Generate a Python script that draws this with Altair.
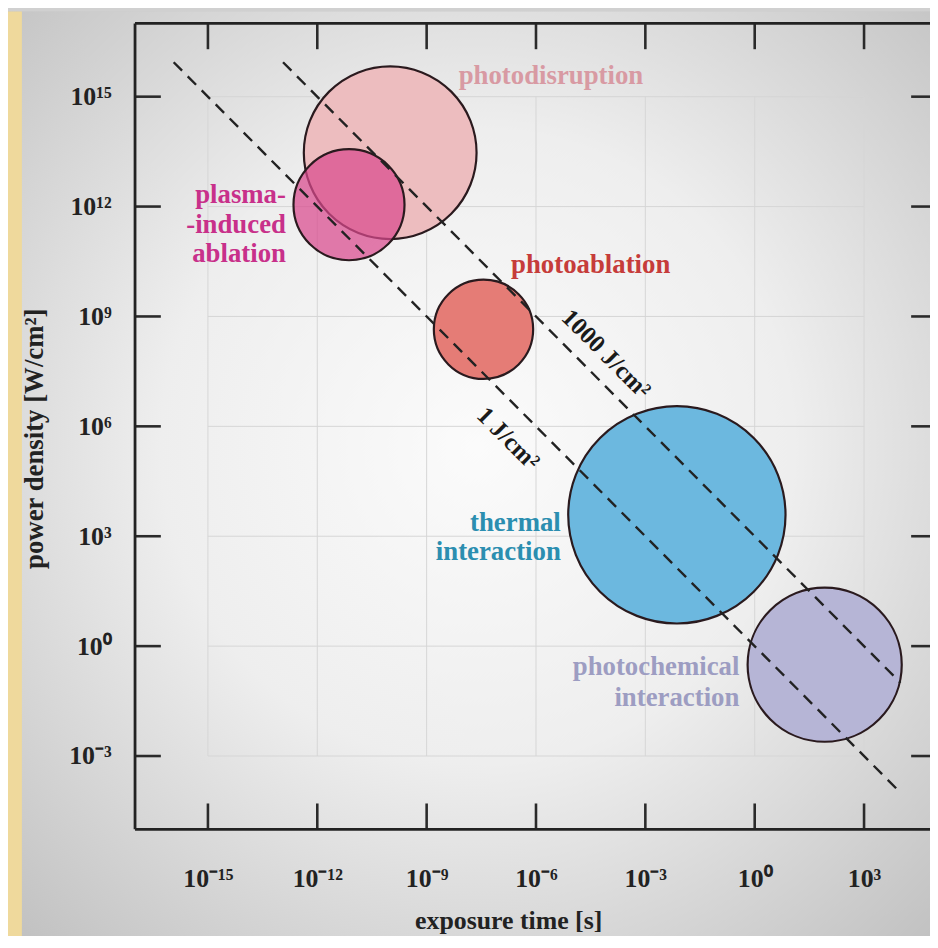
import altair as alt
import pandas as pd

# ---------------- data ----------------
regions = ["photodisruption", "plasma-induced ablation", "photoablation",
           "thermal interaction", "photochemical interaction"]
center_log_t = [-10.0, -11.13, -7.44, -2.135, 1.92]       # log10 exposure time [s]
center_log_p = [13.47, 12.05, 8.65, 3.585, -0.507]        # log10 power density [W/cm2]
diameter_dec = [4.73, 3.04, 2.72, 5.95, 4.22]             # circle diameter in decades
fill_colors = ["#EDBDBF", "#D94A8E", "#E57C76", "#6CB8DF", "#B6B5D6"]
fill_opac = [1.0, 0.72, 1.0, 1.0, 1.0]

fluence_lines = ["1 J/cm²", "1000 J/cm²"]
line_log_t_start = [-15.94, -12.94]
line_log_t_end = [4.0, 4.0]
fluence_log = [0, 3]   # log10 of fluence in J/cm2

tick_exps = [-15, -12, -9, -6, -3, 0, 3]
ytick_exps = [-3, 0, 3, 6, 9, 12, 15]

label_texts = ["photodisruption", "plasma-", "-induced", "ablation", "photoablation",
               "thermal", "interaction", "photochemical", "interaction"]
label_log_t = [-5.59, -12.86, -12.86, -12.86, -4.50, -5.32, -5.32, -0.42, -0.42]
label_log_p = [15.56, 12.31, 11.50, 10.69, 10.41, 3.37, 2.56, -0.56, -1.43]
label_align = ["center", "right", "right", "right", "center", "right", "right", "right", "right"]
label_colors = ["#D89AA3", "#C8308A", "#C8308A", "#C8308A", "#C63C3A",
                "#2B8EB0", "#2B8EB0", "#9D9DC2", "#9D9DC2"]

line_label_texts = ["1000 J/cm²", "1 J/cm²"]
line_label_log_t = [-4.07, -6.76]
line_label_log_p = [7.98, 5.67]

# ---------------- tables ----------------
circles = pd.DataFrame({
    "region": regions,
    "t": [10 ** v for v in center_log_t],
    "p": [10 ** v for v in center_log_p],
    "d": diameter_dec,
    "op": fill_opac,
    "k": list(range(len(regions))),
})

rows = []
for name, a, b, f in zip(fluence_lines, line_log_t_start, line_log_t_end, fluence_log):
    for lt in (a, b):
        rows.append({"line": name, "t": 10 ** lt, "p": 10 ** (f - lt)})
lines_df = pd.DataFrame(rows)

xt = pd.DataFrame({"t": [10.0 ** e for e in tick_exps]})
yt = pd.DataFrame({"p": [10.0 ** e for e in ytick_exps]})

labels_df = pd.DataFrame({
    "text": label_texts,
    "t": [10 ** v for v in label_log_t],
    "p": [10 ** v for v in label_log_p],
    "align": label_align,
    "color": label_colors,
})
line_labels_df = pd.DataFrame({
    "text": line_label_texts,
    "t": [10 ** v for v in line_label_log_t],
    "p": [10 ** v for v in line_label_log_p],
})

SUP = str.maketrans("-0123456789", "⁻⁰¹²³⁴⁵⁶⁷⁸⁹")
def sup_label(e):
    return "10" + str(e).translate(SUP)

W, H = 808, 812
FONT = "Liberation Serif"
xscale = alt.Scale(type="log", domain=[1e-17, 1e5], nice=False)
yscale = alt.Scale(type="log", domain=[1e-5, 1e17], nice=False)

def lab_expr(exps):
    return "[" + ",".join("'%s'" % sup_label(e) for e in exps) + "][indexof([" + \
        ",".join(str(e) for e in exps) + "], round(log(datum.value)/LN10))]"

x_axis = alt.Axis(values=[10.0 ** e for e in tick_exps], labelExpr=lab_expr(tick_exps),
                  title="exposure time [s]", ticks=False, tickSize=0, domain=False, grid=False,
                  zindex=2,
                  labelPadding=37, labelFont=FONT, labelFontSize=26, labelFontWeight="bold",
                  labelColor="#222222", titleFont=FONT, titleFontSize=26, titleFontWeight="bold",
                  titleColor="#222222", titleBaseline="middle", titleY=92, titleX=376)
y_axis = alt.Axis(values=[10.0 ** e for e in ytick_exps], labelExpr=lab_expr(ytick_exps),
                  title="power density [W/cm²]", ticks=False, tickSize=0, domain=False, grid=False,
                  zindex=2,
                  labelPadding=24, labelFont=FONT, labelFontSize=26, labelFontWeight="bold",
                  labelColor="#222222", titleFont=FONT, titleFontSize=27, titleFontWeight="bold",
                  titleColor="#222222", titleBaseline="middle", titleAlign="center",
                  titleAngle=270, titleX=-101, titleY=418)

def X(field=None, datum=None):
    if datum is not None:
        return alt.X(datum=datum, type="quantitative", scale=xscale, axis=x_axis)
    return alt.X(field, type="quantitative", scale=xscale, axis=x_axis)

def Y(field=None, datum=None):
    if datum is not None:
        return alt.Y(datum=datum, type="quantitative", scale=yscale, axis=y_axis)
    return alt.Y(field, type="quantitative", scale=yscale, axis=y_axis)

one = alt.Data(values=[{}])

bg = alt.Chart(one).mark_rect(
    color=alt.Gradient(gradient="radial", x1=0.5, y1=0.47, r1=0.0, x2=0.5, y2=0.47, r2=0.75,
                       stops=[alt.GradientStop(offset=0, color="#fbfbfb"),
                              alt.GradientStop(offset=0.45, color="#eeeeee"),
                              alt.GradientStop(offset=1, color="#bdbdbd")])
).encode(x=alt.value(-128), x2=alt.value(W + 10), y=alt.value(-12), y2=alt.value(H + 110))

stripe = alt.Chart(one).mark_rect(color="#EFD99C").encode(
    x=alt.value(-128), x2=alt.value(-114), y=alt.value(-12), y2=alt.value(H + 110))

vgrid = alt.Chart(xt).mark_rule(color="#d6d6d6", strokeWidth=1).encode(
    x=X("t"), y=Y(datum=1e-3), y2=alt.Y2(datum=1e15))
hgrid = alt.Chart(yt).mark_rule(color="#d6d6d6", strokeWidth=1).encode(
    y=Y("p"), x=X(datum=1e-15), x2=alt.X2(datum=1e3))

circ = alt.Chart(circles).mark_circle(stroke="#2a1a1e", strokeWidth=2.2, opacity=1).encode(
    x=X("t"),
    y=Y("p"),
    size=alt.Size("d:Q", scale=alt.Scale(type="pow", exponent=2, domain=[0, 10],
                                         range=[0, (10 * 36.8) ** 2], clamp=False), legend=None),
    color=alt.Color("region:N", scale=alt.Scale(domain=regions, range=fill_colors), legend=None),
    fillOpacity=alt.FillOpacity("op:Q", scale=None),
    order=alt.Order("k:Q"),
)

dashed = alt.Chart(lines_df).mark_line(color="#222222", strokeWidth=2.4, strokeDash=[12, 8]).encode(
    x=X("t"), y=Y("p"), detail="line:N")

tick_style = dict(color="#2a2a2a", strokeWidth=2.6)
top_ticks = alt.Chart(xt).mark_rule(**tick_style).encode(
    x=X("t"), y=alt.value(0), y2=alt.value(26))
bot_ticks = alt.Chart(xt).mark_rule(**tick_style).encode(
    x=X("t"), y=alt.value(H - 26), y2=alt.value(H))
left_ticks = alt.Chart(yt).mark_rule(**tick_style).encode(
    y=Y("p"), x=alt.value(0), x2=alt.value(26))
right_ticks = alt.Chart(yt).mark_rule(**tick_style).encode(
    y=Y("p"), x=alt.value(W - 26), x2=alt.value(W))

frame_style = dict(color="#222222", strokeWidth=2.8)
frame_left = alt.Chart(one).mark_rule(**frame_style).encode(
    x=alt.value(0), y=alt.value(0), y2=alt.value(H))
frame_top = alt.Chart(one).mark_rule(**frame_style).encode(
    y=alt.value(0), x=alt.value(0), x2=alt.value(W))
frame_bottom = alt.Chart(one).mark_rule(**frame_style).encode(
    y=alt.value(H), x=alt.value(0), x2=alt.value(W))

def label_layer(al):
    return alt.Chart(labels_df).transform_filter(
        alt.datum.align == al
    ).mark_text(font=FONT, fontSize=27, fontWeight="bold", baseline="middle", align=al).encode(
        x=X("t"), y=Y("p"),
        text="text:N",
        color=alt.Color("color:N", scale=None))

line_labels = alt.Chart(line_labels_df).mark_text(font=FONT, fontSize=25, fontWeight="bold",
                                                  angle=45, color="#1a1a1a",
                                                  baseline="middle", align="center").encode(
    x=X("t"), y=Y("p"), text="text:N")

chart = alt.layer(bg, stripe, vgrid, hgrid, circ, dashed, top_ticks, bot_ticks,
                  left_ticks, right_ticks, frame_left, frame_top, frame_bottom,
                  label_layer("center"), label_layer("right"), line_labels).properties(
    width=W, height=H,
    autosize=alt.AutoSizeParams(type="none"),
    padding={"left": 128, "top": 12, "right": -7, "bottom": 104},
    background="#d0d0d0",
).configure_view(stroke=None)

chart.save("out.html", embed_options={"renderer": "svg", "actions": False})
